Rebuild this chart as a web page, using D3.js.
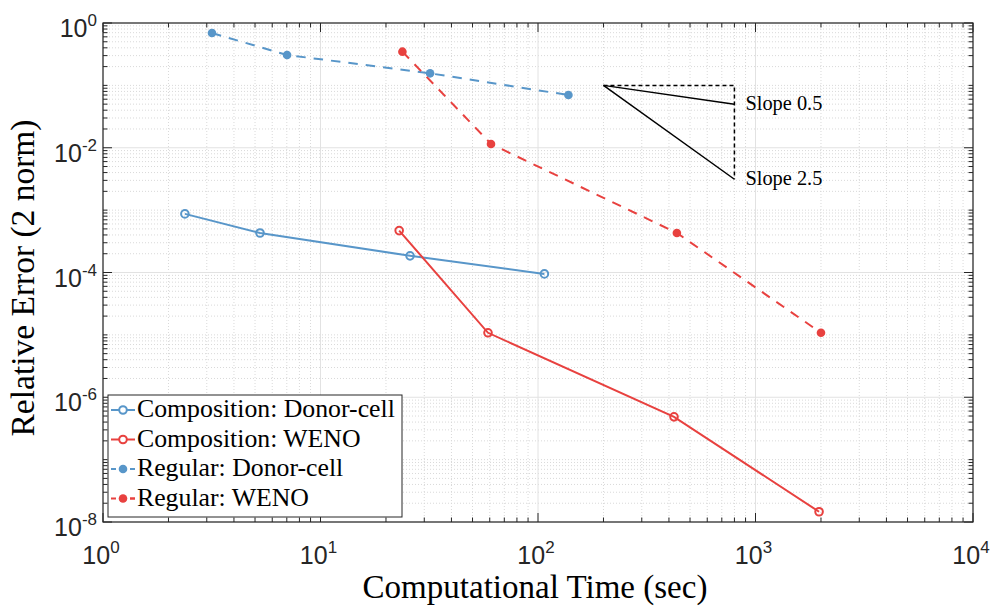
<!DOCTYPE html>
<html>
<head>
<meta charset="utf-8">
<script src="https://cdn.jsdelivr.net/npm/d3@7"></script>
<style>
  body { margin: 0; background: #fff; }
  svg { display: block; }
  .serif { font-family: "Liberation Serif", "Times New Roman", "DejaVu Serif", serif; }
  .sans { font-family: "Liberation Sans", Arial, Helvetica, sans-serif; }
</style>
</head>
<body>
<svg id="chart"></svg>
<script>
// Data (log-log)
const compDonorTime = [2.38, 5.27, 25.8, 107];
const compDonorErr = [8.7e-4, 4.3e-4, 1.85e-4, 9.5e-5];
const compWenoTime = [23.0, 58.9, 422, 1960];
const compWenoErr = [4.7e-4, 1.08e-5, 4.85e-7, 1.46e-8];
const regDonorTime = [3.17, 7.02, 31.9, 138];
const regDonorErr = [0.69, 0.307, 0.156, 0.070];
const regWenoTime = [23.8, 60.8, 435, 2000];
const regWenoErr = [0.347, 0.0115, 4.3e-4, 1.08e-5];

const seriesNames = ["Composition: Donor-cell", "Composition: WENO", "Regular: Donor-cell", "Regular: WENO"];

// slope guide triangle
const slopeX = [200, 800];
const slopeY0 = 0.1;
const slopes = [0.5, 2.5];

const xTickExp = [0, 1, 2, 3, 4];
const yTickExp = [0, -2, -4, -6, -8];

const width = 998, height = 607;
const marginLeft = 103, marginRight = 25, marginTop = 23, marginBottom = 85;

const blue = "#5896c9", red = "#e8413f", axisColor = "#262626";
const serifFont = "'Liberation Serif', 'Times New Roman', 'DejaVu Serif', serif";

const svg = d3.select("#chart").attr("width", width).attr("height", height);

const x = d3.scaleLog([1, 1e4], [marginLeft, width - marginRight]);
const y = d3.scaleLog([1e-8, 1], [height - marginBottom, marginTop]);
const [x0, x1] = x.range();
const [y0, y1] = y.range();

// scale a text's font size so it spans the given width
function fitWidth(sel, target) {
  const fs = parseFloat(sel.style("font-size"));
  const w = sel.node().getComputedTextLength();
  sel.style("font-size", (fs * target / w) + "px");
}

// minor / major positions
const xMinor = [], yMinor = [];
for (let e = 0; e < 4; e++) for (let m = 2; m <= 9; m++) xMinor.push(m * 10 ** e);
for (let e = -8; e < 0; e++) for (let m = 1; m <= 9; m++) {
  const v = m * 10 ** e;
  if (!(m === 1 && e % 2 === 0)) yMinor.push(v);
}
const xMajor = xTickExp.map(e => 10 ** e);
const yMajor = yTickExp.map(e => 10 ** e);

// Grid
const grid = svg.append("g");
grid.selectAll(".gxm").data(xMinor).join("line")
  .attr("x1", d => x(d)).attr("x2", d => x(d)).attr("y1", y0).attr("y2", y1)
  .attr("stroke", "#d9d9d9").attr("stroke-width", 1).attr("stroke-dasharray", "1,2");
grid.selectAll(".gym").data(yMinor).join("line")
  .attr("y1", d => y(d)).attr("y2", d => y(d)).attr("x1", x0).attr("x2", x1)
  .attr("stroke", "#d9d9d9").attr("stroke-width", 1).attr("stroke-dasharray", "1,2");
grid.selectAll(".gxM").data(xMajor).join("line")
  .attr("x1", d => x(d)).attr("x2", d => x(d)).attr("y1", y0).attr("y2", y1)
  .attr("stroke", "#e2e2e2").attr("stroke-width", 1);
grid.selectAll(".gyM").data(yMajor).join("line")
  .attr("y1", d => y(d)).attr("y2", d => y(d)).attr("x1", x0).attr("x2", x1)
  .attr("stroke", "#e2e2e2").attr("stroke-width", 1);

// Ticks (inward, all four sides)
const ticks = svg.append("g").attr("stroke", axisColor).attr("stroke-width", 1);
const tk = (v, len, horiz) => {
  if (horiz) {
    ticks.append("line").attr("x1", x(v)).attr("x2", x(v)).attr("y1", y0).attr("y2", y0 - len);
    ticks.append("line").attr("x1", x(v)).attr("x2", x(v)).attr("y1", y1).attr("y2", y1 + len);
  } else {
    ticks.append("line").attr("y1", y(v)).attr("y2", y(v)).attr("x1", x0).attr("x2", x0 + len);
    ticks.append("line").attr("y1", y(v)).attr("y2", y(v)).attr("x1", x1).attr("x2", x1 - len);
  }
};
xMinor.forEach(v => tk(v, 4.5, true));
xMajor.forEach(v => tk(v, 9, true));
yMinor.forEach(v => tk(v, 4.5, false));
yMajor.forEach(v => tk(v, 9, false));

// Tick labels
svg.append("g").selectAll("text").data(xTickExp).join("text")
  .attr("class", "sans")
  .attr("x", d => x(10 ** d) - 2).attr("y", y0 + 42)
  .attr("text-anchor", "middle").attr("fill", axisColor)
  .style("font-size", "25px")
  .call(t => t.append("tspan").text("10"))
  .call(t => t.append("tspan").attr("dy", -11).style("font-size", "17px").text(d => d));

svg.append("g").selectAll("text").data(yTickExp).join("text")
  .attr("class", "sans")
  .attr("x", x0 - 6).attr("y", d => y(10 ** d) + 14)
  .attr("text-anchor", "end").attr("fill", axisColor)
  .style("font-size", "25px")
  .call(t => t.append("tspan").text("10"))
  .call(t => t.append("tspan").attr("dy", -11).style("font-size", "17px").text(d => d));

// Series
const series = [
  { t: compDonorTime, e: compDonorErr, color: blue, dash: null, open: true },
  { t: compWenoTime, e: compWenoErr, color: red, dash: null, open: true },
  { t: regDonorTime, e: regDonorErr, color: blue, dash: "9.5,8", open: false },
  { t: regWenoTime, e: regWenoErr, color: red, dash: "9.5,8", open: false }
];

const line = d3.line().x(d => x(d[0])).y(d => y(d[1]));

series.forEach(s => {
  const pts = s.t.map((t, i) => [t, s.e[i]]);
  svg.append("path")
    .attr("d", line(pts))
    .attr("fill", "none")
    .attr("stroke", s.color)
    .attr("stroke-width", 2)
    .attr("stroke-dasharray", s.dash);
  svg.append("g").selectAll("circle").data(pts).join("circle")
    .attr("cx", d => x(d[0])).attr("cy", d => y(d[1]))
    .attr("r", s.open ? 3.8 : 4.3)
    .attr("fill", s.open ? "none" : s.color)
    .attr("stroke", s.color)
    .attr("stroke-width", s.open ? 2 : 0);
});

// Slope triangle
const tri = svg.append("g").attr("stroke", "#000").attr("fill", "none").attr("stroke-width", 1.5);
const ends = slopes.map(k => slopeY0 * (slopeX[0] / slopeX[1]) ** k);
tri.append("path")
  .attr("d", `M${x(slopeX[0])},${y(slopeY0)}H${x(slopeX[1])}V${y(ends[1])}`)
  .attr("stroke-dasharray", "4,3");
ends.forEach(v => {
  tri.append("line")
    .attr("x1", x(slopeX[0])).attr("y1", y(slopeY0))
    .attr("x2", x(slopeX[1])).attr("y2", y(v));
});
svg.append("g").selectAll("text").data(slopes).join("text")
  .attr("class", "serif").attr("font-family", serifFont)
  .attr("x", x(slopeX[1]) + 11)
  .attr("y", (d, i) => y(ends[i]) + 6)
  .style("font-size", "17px").attr("fill", "#000")
  .text(d => `Slope ${d.toFixed(1)}`)
  .each(function () { fitWidth(d3.select(this), 77); });

// Axis box
svg.append("rect")
  .attr("x", x0).attr("y", y1).attr("width", x1 - x0).attr("height", y0 - y1)
  .attr("fill", "none").attr("stroke", axisColor).attr("stroke-width", 1.2);

// Axis labels
svg.append("text")
  .attr("class", "serif").attr("font-family", serifFont)
  .attr("x", 535).attr("y", 598)
  .attr("text-anchor", "middle").style("font-size", "28px")
  .attr("fill", "#000")
  .text("Computational Time (sec)")
  .call(t => fitWidth(t, 345));
svg.append("text")
  .attr("class", "serif").attr("font-family", serifFont)
  .attr("transform", `translate(34,278) rotate(-90)`)
  .attr("text-anchor", "middle").style("font-size", "26px")
  .attr("fill", "#000")
  .text("Relative Error (2 norm)")
  .call(t => fitWidth(t, 317));

// Legend
const legX = 108, legY = 395, rowH = 29.5;
const leg = svg.append("g");
const legBox = leg.append("rect")
  .attr("x", legX).attr("y", legY).attr("height", 122)
  .attr("fill", "#fff").attr("stroke", axisColor).attr("stroke-width", 1);
const legText = [];
series.forEach((s, i) => {
  const cy = legY + 15 + i * rowH;
  leg.append("line")
    .attr("x1", legX + 3).attr("x2", legX + 27).attr("y1", cy).attr("y2", cy)
    .attr("stroke", s.color).attr("stroke-width", 2)
    .attr("stroke-dasharray", s.dash ? "5,14" : null);
  if (s.dash) {
    leg.append("line")
      .attr("x1", legX + 22).attr("x2", legX + 27).attr("y1", cy).attr("y2", cy)
      .attr("stroke", s.color).attr("stroke-width", 2);
  }
  leg.append("circle")
    .attr("cx", legX + 15).attr("cy", cy)
    .attr("r", s.open ? 3.8 : 4.3)
    .attr("fill", s.open ? "#fff" : s.color)
    .attr("stroke", s.color).attr("stroke-width", s.open ? 2 : 0);
  legText.push(leg.append("text")
    .attr("class", "serif").attr("font-family", serifFont)
    .attr("x", legX + 29).attr("y", cy + 7)
    .style("font-size", "22px").attr("fill", "#000")
    .text(seriesNames[i]));
});
// size legend text from the widest entry
const w0 = legText[0].node().getComputedTextLength();
const legFs = 22 * 258 / w0;
legText.forEach(t => t.style("font-size", legFs + "px"));
legBox.attr("width", 29 + 258 + 7);
</script>
</body>
</html>
